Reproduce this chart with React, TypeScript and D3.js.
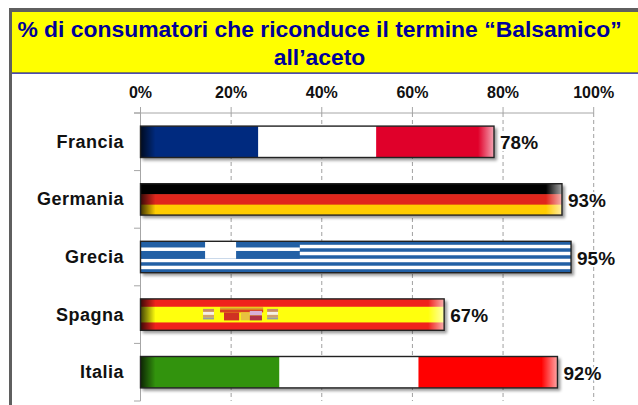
import React from "react";
import * as d3 from "d3";

const categories = ["Francia", "Germania", "Grecia", "Spagna", "Italia"];
const values = [78, 93, 95, 67, 92];
const tickValues = [0, 20, 40, 60, 80, 100];
const titleLines = ["% di consumatori che riconduce il termine “Balsamico”", "all’aceto"];
const verticalFlags: Record<string, string[]> = {
  Francia: ["#002a7f", "#ffffff", "#e00029"],
  Italia: ["#33930e", "#ffffff", "#ff0000"],
};
const horizontalFlags: Record<string, string[]> = {
  Germania: ["#000000", "#e0261a", "#ffcc00"],
  Grecia: ["#2360a5", "#ffffff", "#2360a5", "#ffffff", "#2360a5", "#ffffff", "#2360a5", "#ffffff", "#2360a5"],
  Spagna: ["#f0201f", "#ffff10", "#ffff10", "#f0201f"],
};
const leftShade = ["Francia", "Germania", "Spagna", "Italia"];
const rightShade = ["Francia", "Germania", "Spagna", "Italia"];
const crestPillars = [0.206, 0.417];
const FONT = "'Liberation Sans', Arial, sans-serif";

export default function App() {
  const x = d3.scaleLinear().domain([0, 100]).range([140.5, 593.7]);
  const y = d3.scaleBand().domain(categories).range([113, 401]).paddingInner(0.455).paddingOuter(0.2275);
  const h = y.bandwidth();
  const edges = [113, ...categories.map((_, i) => 113 + ((i + 1) * 288) / 5)];
  return (
    <svg width={638} height={405} style={{ position: "fixed", left: 0, top: 0, background: "#fff" }} fontFamily={FONT}>
      <defs>
        <linearGradient id="lg">
          <stop offset="0" stopColor="#000" stopOpacity={0.75} />
          <stop offset="1" stopColor="#000" stopOpacity={0} />
        </linearGradient>
        <linearGradient id="rg">
          <stop offset="0" stopColor="#fff" stopOpacity={0} />
          <stop offset="1" stopColor="#fff" stopOpacity={0.65} />
        </linearGradient>
        <filter id="sh" x="-5%" y="-20%" width="110%" height="150%">
          <feGaussianBlur stdDeviation="1.5" />
        </filter>
        <filter id="soft" x="-2%" y="-5%" width="104%" height="110%">
          <feGaussianBlur stdDeviation="0.4" />
        </filter>
      </defs>
      <rect x={9} y={8} width={629} height={4} fill="#5f5f5f" />
      <rect x={9} y={8} width={3} height={397} fill="#5f5f5f" />
      <rect x={12} y={12} width={626} height={61} fill="#ffff00" />
      <rect x={12} y={72.5} width={626} height={1.2} fill="#00009c" />
      {titleLines.map((t, i) => (
        <text key={t} x={319.5} y={37 + i * 28} textAnchor="middle" fontSize={22.9} fontWeight="bold" fill="#000099">
          {t}
        </text>
      ))}
      <line x1={134} x2={x(100)} y1={113} y2={113} stroke="#a6a6a6" />
      <line x1={x(0)} x2={x(0)} y1={107} y2={401} stroke="#a6a6a6" />
      {edges.map((e) => (
        <line key={e} x1={134} x2={x(0)} y1={e} y2={e} stroke="#a6a6a6" />
      ))}
      {tickValues.map((t) => (
        <g key={t}>
          {t > 0 && <line x1={x(t)} x2={x(t)} y1={107} y2={113} stroke="#a6a6a6" />}
          {t > 0 && <line x1={x(t)} x2={x(t)} y1={113} y2={401} stroke="#a0a0a0" strokeDasharray="4 3" />}
          <text x={x(t)} y={98} textAnchor="middle" fontSize={16} fontWeight="bold" fill="#111">
            {t}%
          </text>
        </g>
      ))}
      {categories.map((c, i) => {
        const y0 = y(c)!;
        const x1 = x(values[i]);
        const w = x1 - x(0);
        const sub = d3.scaleLinear().domain([0, 1]).range([x(0), x1]);
        const vert = verticalFlags[c];
        const horiz = horizontalFlags[c];
        const rows = d3.scaleLinear().domain([0, horiz ? horiz.length : 1]).range([y0, y0 + h]);
        return (
          <g key={c}>
            <rect x={x(0) + 2} y={y0 + 2} width={w + 1} height={h + 1} fill="#000" opacity={0.4} filter="url(#sh)" />
            <rect x={x(0)} y={y0} width={w} height={h} fill="#fff" />
            <g filter="url(#soft)">
              {vert &&
                vert.map((col, k) => (
                  <rect key={k} x={sub(k / 3)} y={y0} width={sub((k + 1) / 3) - sub(k / 3)} height={h} fill={col} />
                ))}
              {horiz &&
                horiz.map((col, k) => (
                  <rect
                    key={k}
                    x={x(0)}
                    y={rows(k)}
                    width={w}
                    height={rows(k + 1) - rows(k) + (k < horiz.length - 1 ? 0.6 : 0)}
                    fill={col}
                  />
                ))}
              {c === "Grecia" && (
                <g>
                  <rect x={x(0)} y={rows(0)} width={w * 0.37} height={rows(5) - rows(0)} fill="#2360a5" />
                  <rect x={x(0)} y={rows(2) - 0.8} width={w * 0.37} height={rows(3) - rows(2)} fill="#fff" />
                  <rect x={sub(0.15)} y={rows(0)} width={w * 0.072} height={rows(5) - rows(0)} fill="#fff" />
                </g>
              )}
              {c === "Spagna" && (
                <g>
                  {crestPillars.map((p) => (
                    <g key={p}>
                      <rect x={sub(p)} y={y0 + 10} width={w * 0.036} height={3} fill="#c98a6a" />
                      <rect x={sub(p)} y={y0 + 13} width={w * 0.036} height={3} fill="#f4f0e8" />
                      <rect x={sub(p)} y={y0 + 16} width={w * 0.036} height={2.5} fill="#d0a070" />
                      <rect x={sub(p)} y={y0 + 18.5} width={w * 0.036} height={2} fill="#9a9aa8" />
                    </g>
                  ))}
                  <rect x={sub(0.262)} y={y0 + 8.5} width={w * 0.142} height={2} fill="#d8a030" />
                  <rect x={sub(0.262)} y={y0 + 10.5} width={w * 0.142} height={3} fill="#d84020" />
                  <rect x={sub(0.275)} y={y0 + 13.5} width={w * 0.05} height={8} fill="#d03020" />
                  <rect x={sub(0.33)} y={y0 + 13.5} width={w * 0.03} height={8} fill="#e8c040" />
                  <rect x={sub(0.36)} y={y0 + 12} width={w * 0.04} height={4.5} fill="#d8b0d8" />
                  <rect x={sub(0.36)} y={y0 + 16.5} width={w * 0.04} height={5} fill="#b03048" />
                </g>
              )}
            </g>
            {leftShade.includes(c) && <rect x={x(0)} y={y0} width={15} height={h} fill="url(#lg)" />}
            {rightShade.includes(c) && <rect x={x1 - 16} y={y0} width={16} height={h} fill="url(#rg)" />}
            <rect x={x(0)} y={y0} width={w} height={h} fill="none" stroke="#222" strokeWidth={1.4} />
            <text x={124} y={y0 + h / 2 + 6} textAnchor="end" fontSize={18} letterSpacing={0.5} fontWeight="bold" fill="#111">
              {c}
            </text>
            <text
              x={x1 + 6}
              y={y0 + h / 2 + 7.5}
              fontSize={19}
              fontWeight="bold"
              fill="#111"
              stroke="#fff"
              strokeWidth={4}
              paintOrder="stroke"
            >
              {values[i]}%
            </text>
          </g>
        );
      })}
    </svg>
  );
}
